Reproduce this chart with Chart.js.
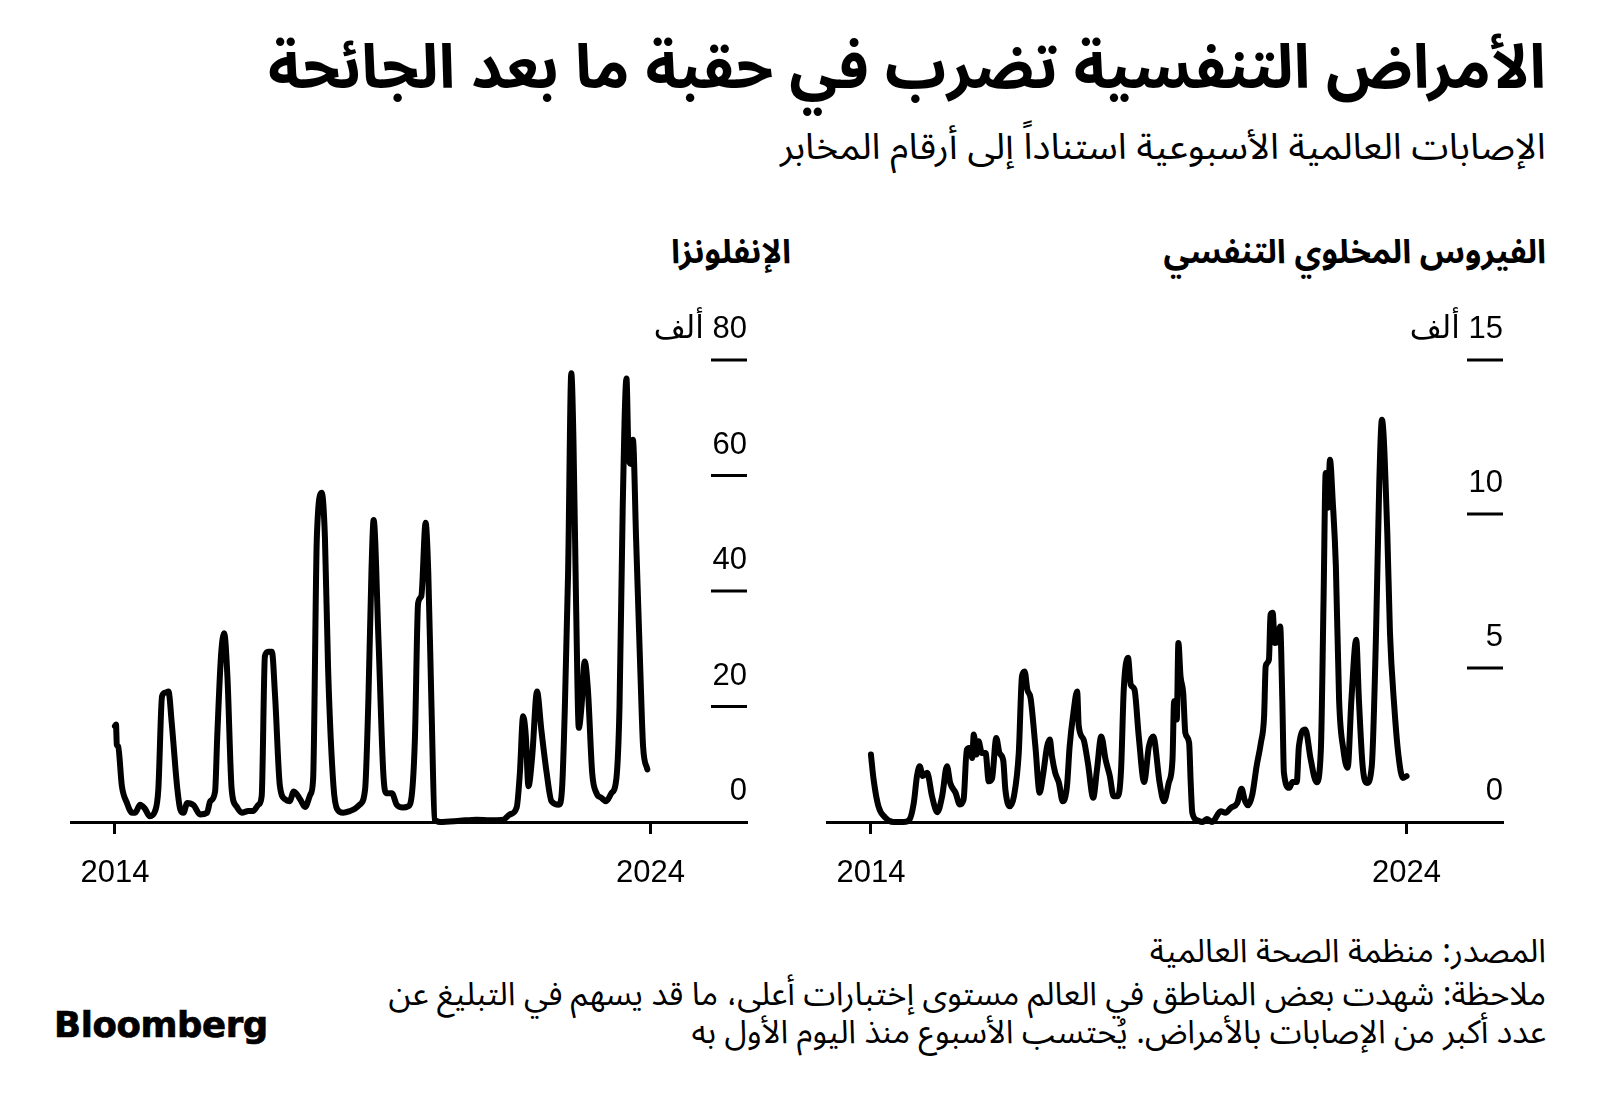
<!DOCTYPE html>
<html lang="ar">
<head>
<meta charset="utf-8">
<script src="https://cdn.jsdelivr.net/npm/chart.js@4.4.1/dist/chart.umd.min.js"></script>
<style>
  html, body { margin:0; padding:0; background:#fff; }
  body { width:1600px; height:1105px; position:relative; overflow:hidden; font-family:"Noto Sans Arabic","DejaVu Sans",sans-serif; color:#000; }
  .t { position:absolute; white-space:nowrap; direction:rtl; text-align:right; transform-origin:right center; }
  #title { right:54px; top:29px; font-size:61px; line-height:80px; font-weight:700; }
  #subtitle { right:54px; top:125px; font-size:36px; line-height:46px; transform:scaleX(1.045); }
  #p1 { right:809px; top:232px; font-size:33px; line-height:42px; font-weight:700; }
  #p2 { right:54px; top:232px; font-size:33px; line-height:42px; font-weight:700; }
  .f { right:54px; font-size:32.5px; line-height:42px; }
  #logo { position:absolute; left:54px; top:1003px; font-family:"DejaVu Sans",sans-serif; font-weight:700; font-size:35.5px; letter-spacing:-0.4px; line-height:44px; -webkit-text-stroke:0.7px #000; }
  canvas { position:absolute; }
</style>
</head>
<body>
<div class="t" id="title">الأمراض التنفسية تضرب في حقبة ما بعد الجائحة</div>
<div class="t" id="subtitle">الإصابات العالمية الأسبوعية استناداً إلى أرقام المخابر</div>
<div class="t" id="p1">الإنفلونزا</div>
<div class="t" id="p2">الفيروس المخلوي التنفسي</div>
<canvas id="c1" width="740" height="612" style="left:40px;top:280px;"></canvas>
<canvas id="c2" width="740" height="612" style="left:796px;top:280px;"></canvas>
<div class="t f" style="top:931px;">المصدر: منظمة الصحة العالمية</div>
<div class="t f" style="top:974px;">ملاحظة: شهدت بعض المناطق في العالم مستوى إختبارات أعلى، ما قد يسهم في التبليغ عن</div>
<div class="t f" style="top:1012px;">عدد أكبر من الإصابات بالأمراض. يُحتسب الأسبوع منذ اليوم الأول به</div>
<div id="logo">Bloomberg</div>
<script>
// ---- Data ----
const xTickYears = [2014, 2024];

// Influenza, weekly global cases (thousands), x = decimal year
const fluYears = [2014.00,2014.02,2014.035,2014.06,2014.13,2014.22,2014.32,2014.38,2014.47,2014.56,2014.65,2014.75,2014.81,2014.88,2014.94,2015.00,2015.06,2015.16,2015.22,2015.28,2015.35,2015.47,2015.59,2015.72,2015.78,2015.87,2015.91,2015.98,2016.04,2016.10,2016.18,2016.27,2016.37,2016.49,2016.58,2016.68,2016.74,2016.80,2016.86,2016.93,2016.99,2017.08,2017.18,2017.26,2017.34,2017.46,2017.55,2017.65,2017.70,2017.77,2017.86,2017.92,2017.98,2018.08,2018.15,2018.26,2018.39,2018.48,2018.57,2018.67,2018.73,2018.79,2018.83,2018.92,2019.01,2019.06,2019.17,2019.26,2019.38,2019.47,2019.54,2019.60,2019.66,2019.72,2019.80,2019.85,2019.91,2019.97,2020.07,2020.44,2020.75,2021.00,2021.25,2021.37,2021.50,2021.56,2021.62,2021.67,2021.72,2021.79,2021.88,2021.96,2022.06,2022.15,2022.29,2022.35,2022.40,2022.46,2022.52,2022.56,2022.61,2022.66,2022.71,2022.77,2022.83,2022.91,2022.99,2023.08,2023.17,2023.27,2023.36,2023.42,2023.48,2023.55,2023.59,2023.63,2023.67,2023.73,2023.81,2023.86,2023.94];
const fluValues = [16.6,16.9,13.4,13.1,6.2,3.4,1.6,1.6,3.0,2.3,1.0,1.9,5.6,21.8,22.4,22.6,17.2,6.2,2.2,1.6,3.3,2.9,1.3,1.6,3.6,5.3,14.8,28.7,32.7,25.2,5.6,2.7,1.6,1.9,1.9,3.0,4.5,28.7,29.5,29.5,21.8,6.2,3.9,3.6,5.3,3.9,2.6,4.8,7.4,49.4,57.0,49.4,26.4,6.2,2.2,1.6,1.9,2.3,3.0,5.6,20.6,43.7,52.3,31.6,8.5,5.0,5.0,3.0,2.5,2.7,4.5,14.3,37.9,39.1,51.8,43.1,20.0,0.4,0.0,0.2,0.4,0.3,0.4,1.3,2.5,8.5,18.3,15.0,6.2,11.4,22.6,16.0,8.5,3.6,3.0,6.2,20.0,43.1,77.7,66.2,37.3,16.3,20.0,27.8,22.9,8.5,5.0,4.2,3.6,5.0,7.4,20.0,54.6,76.8,63.3,62.0,66.2,48.9,25.8,13.1,9.1];
const fluYTicks = [0, 20, 40, 60, 80];

// RSV, weekly global cases (thousands), x = decimal year
const rsvYears = [2014.00,2014.05,2014.14,2014.27,2014.42,2014.61,2014.72,2014.80,2014.86,2014.91,2014.97,2015.05,2015.14,2015.24,2015.33,2015.42,2015.48,2015.58,2015.66,2015.73,2015.79,2015.86,2015.89,2015.92,2015.97,2016.01,2016.07,2016.14,2016.20,2016.26,2016.34,2016.40,2016.47,2016.51,2016.59,2016.67,2016.76,2016.82,2016.87,2016.92,2016.98,2017.07,2017.15,2017.21,2017.29,2017.34,2017.38,2017.44,2017.51,2017.58,2017.66,2017.71,2017.78,2017.85,2017.88,2017.97,2018.05,2018.15,2018.22,2018.30,2018.38,2018.46,2018.53,2018.61,2018.67,2018.72,2018.80,2018.85,2018.92,2019.00,2019.10,2019.19,2019.27,2019.39,2019.47,2019.56,2019.63,2019.66,2019.71,2019.74,2019.78,2019.83,2019.87,2019.94,2019.97,2020.00,2020.09,2020.19,2020.27,2020.37,2020.53,2020.62,2020.72,2020.84,2020.92,2020.98,2021.04,2021.12,2021.20,2021.28,2021.34,2021.37,2021.43,2021.46,2021.50,2021.54,2021.59,2021.64,2021.68,2021.71,2021.81,2021.87,2021.95,2021.99,2022.11,2022.21,2022.32,2022.40,2022.45,2022.49,2022.53,2022.57,2022.62,2022.68,2022.74,2022.82,2022.90,2022.97,2023.06,2023.11,2023.18,2023.26,2023.35,2023.43,2023.49,2023.54,2023.64,2023.69,2023.77,2023.85,2023.93,2024.00];
const rsvValues = [2.19,1.38,0.51,0.14,0.0,0.0,0.08,0.62,1.49,1.81,1.49,1.60,0.84,0.32,0.84,1.81,1.27,0.95,0.57,0.73,2.35,2.41,2.08,2.84,2.19,2.62,2.24,2.24,1.32,1.40,2.73,2.24,2.0,1.05,0.51,0.84,2.24,4.73,4.89,4.30,4.03,2.46,0.95,1.49,2.46,2.68,2.14,1.60,1.27,0.67,1.16,2.46,3.54,4.24,3.11,2.68,1.92,0.79,1.70,2.78,2.03,1.49,0.84,0.84,1.70,4.30,5.33,4.46,4.30,2.78,1.30,2.46,2.78,1.27,0.67,1.27,2.03,3.92,3.33,5.81,4.73,4.19,2.89,2.57,1.27,0.30,0.06,0.0,0.1,0.0,0.35,0.30,0.46,0.62,1.08,0.7,0.54,0.89,1.81,2.57,3.43,5.06,5.27,6.73,6.79,5.81,5.9,6.35,3.97,1.60,1.11,1.3,1.3,2.46,3.0,2.03,1.29,2.35,7.22,11.33,10.2,11.76,10.46,8.30,3.97,2.35,1.76,3.97,5.92,3.97,1.81,1.27,1.81,6.14,11.0,13.06,9.38,6.14,3.76,2.14,1.43,1.49];
const rsvYTicks = [0, 5, 10, 15];

const unitLabel = 'ألف';
const NUM_FONT = '"Liberation Sans","DejaVu Sans",sans-serif';

const yTickPlugin = {
  id: 'yTickMarks',
  afterDraw(chart, args, opts) {
    const { ctx, chartArea } = chart;
    const y = chart.scales.y;
    const vals = opts.values;
    const top = vals[vals.length - 1];
    ctx.save();
    ctx.strokeStyle = '#000';
    ctx.lineWidth = 3;
    ctx.fillStyle = '#000';
    ctx.font = '31px ' + NUM_FONT;
    ctx.textAlign = 'right';
    ctx.textBaseline = 'alphabetic';
    ctx.direction = 'rtl';
    vals.forEach(v => {
      const py = y.getPixelForValue(v);
      if (v > 0) {
        ctx.beginPath();
        ctx.moveTo(chartArea.right - 36, py);
        ctx.lineTo(chartArea.right, py);
        ctx.stroke();
      }
      const label = v === top ? v + ' ' + unitLabel : String(v);
      ctx.fillText(label, chartArea.right, py - 22);
    });
    ctx.restore();
  }
};

function makeChart(id, years, values, yTicks) {
  const pts = years.map((x, i) => ({ x: x, y: values[i] }));
  return new Chart(document.getElementById(id), {
    type: 'line',
    data: { datasets: [{
      data: pts, borderColor: '#000', borderWidth: 6, pointRadius: 0,
      cubicInterpolationMode: 'monotone', clip: false, borderJoinStyle: 'round', borderCapStyle: 'round', fill: false
    }]},
    options: {
      responsive: false, animation: false, events: [],
      layout: { padding: { left: 31, right: 33, top: 80, bottom: 0 } },
      plugins: { legend: { display: false }, tooltip: { enabled: false }, yTickMarks: { values: yTicks } },
      scales: {
        x: {
          type: 'linear', min: 2013.18, max: 2025.8,
          afterBuildTicks: s => { s.ticks = xTickYears.map(v => ({ value: v })); },
          afterFit: s => { s.height = 70; },
          border: { color: '#000', width: 3 },
          grid: { drawOnChartArea: false, drawTicks: true, tickLength: 12, tickWidth: 3, tickColor: '#000' },
          ticks: { color: '#000', font: { family: NUM_FONT, size: 31 }, padding: 21, maxRotation: 0, callback: v => String(v) }
        },
        y: { display: false, min: 0, max: yTicks[yTicks.length - 1] }
      }
    },
    plugins: [yTickPlugin]
  });
}

makeChart('c1', fluYears, fluValues, fluYTicks);
makeChart('c2', rsvYears, rsvValues, rsvYTicks);
</script>
</body>
</html>
